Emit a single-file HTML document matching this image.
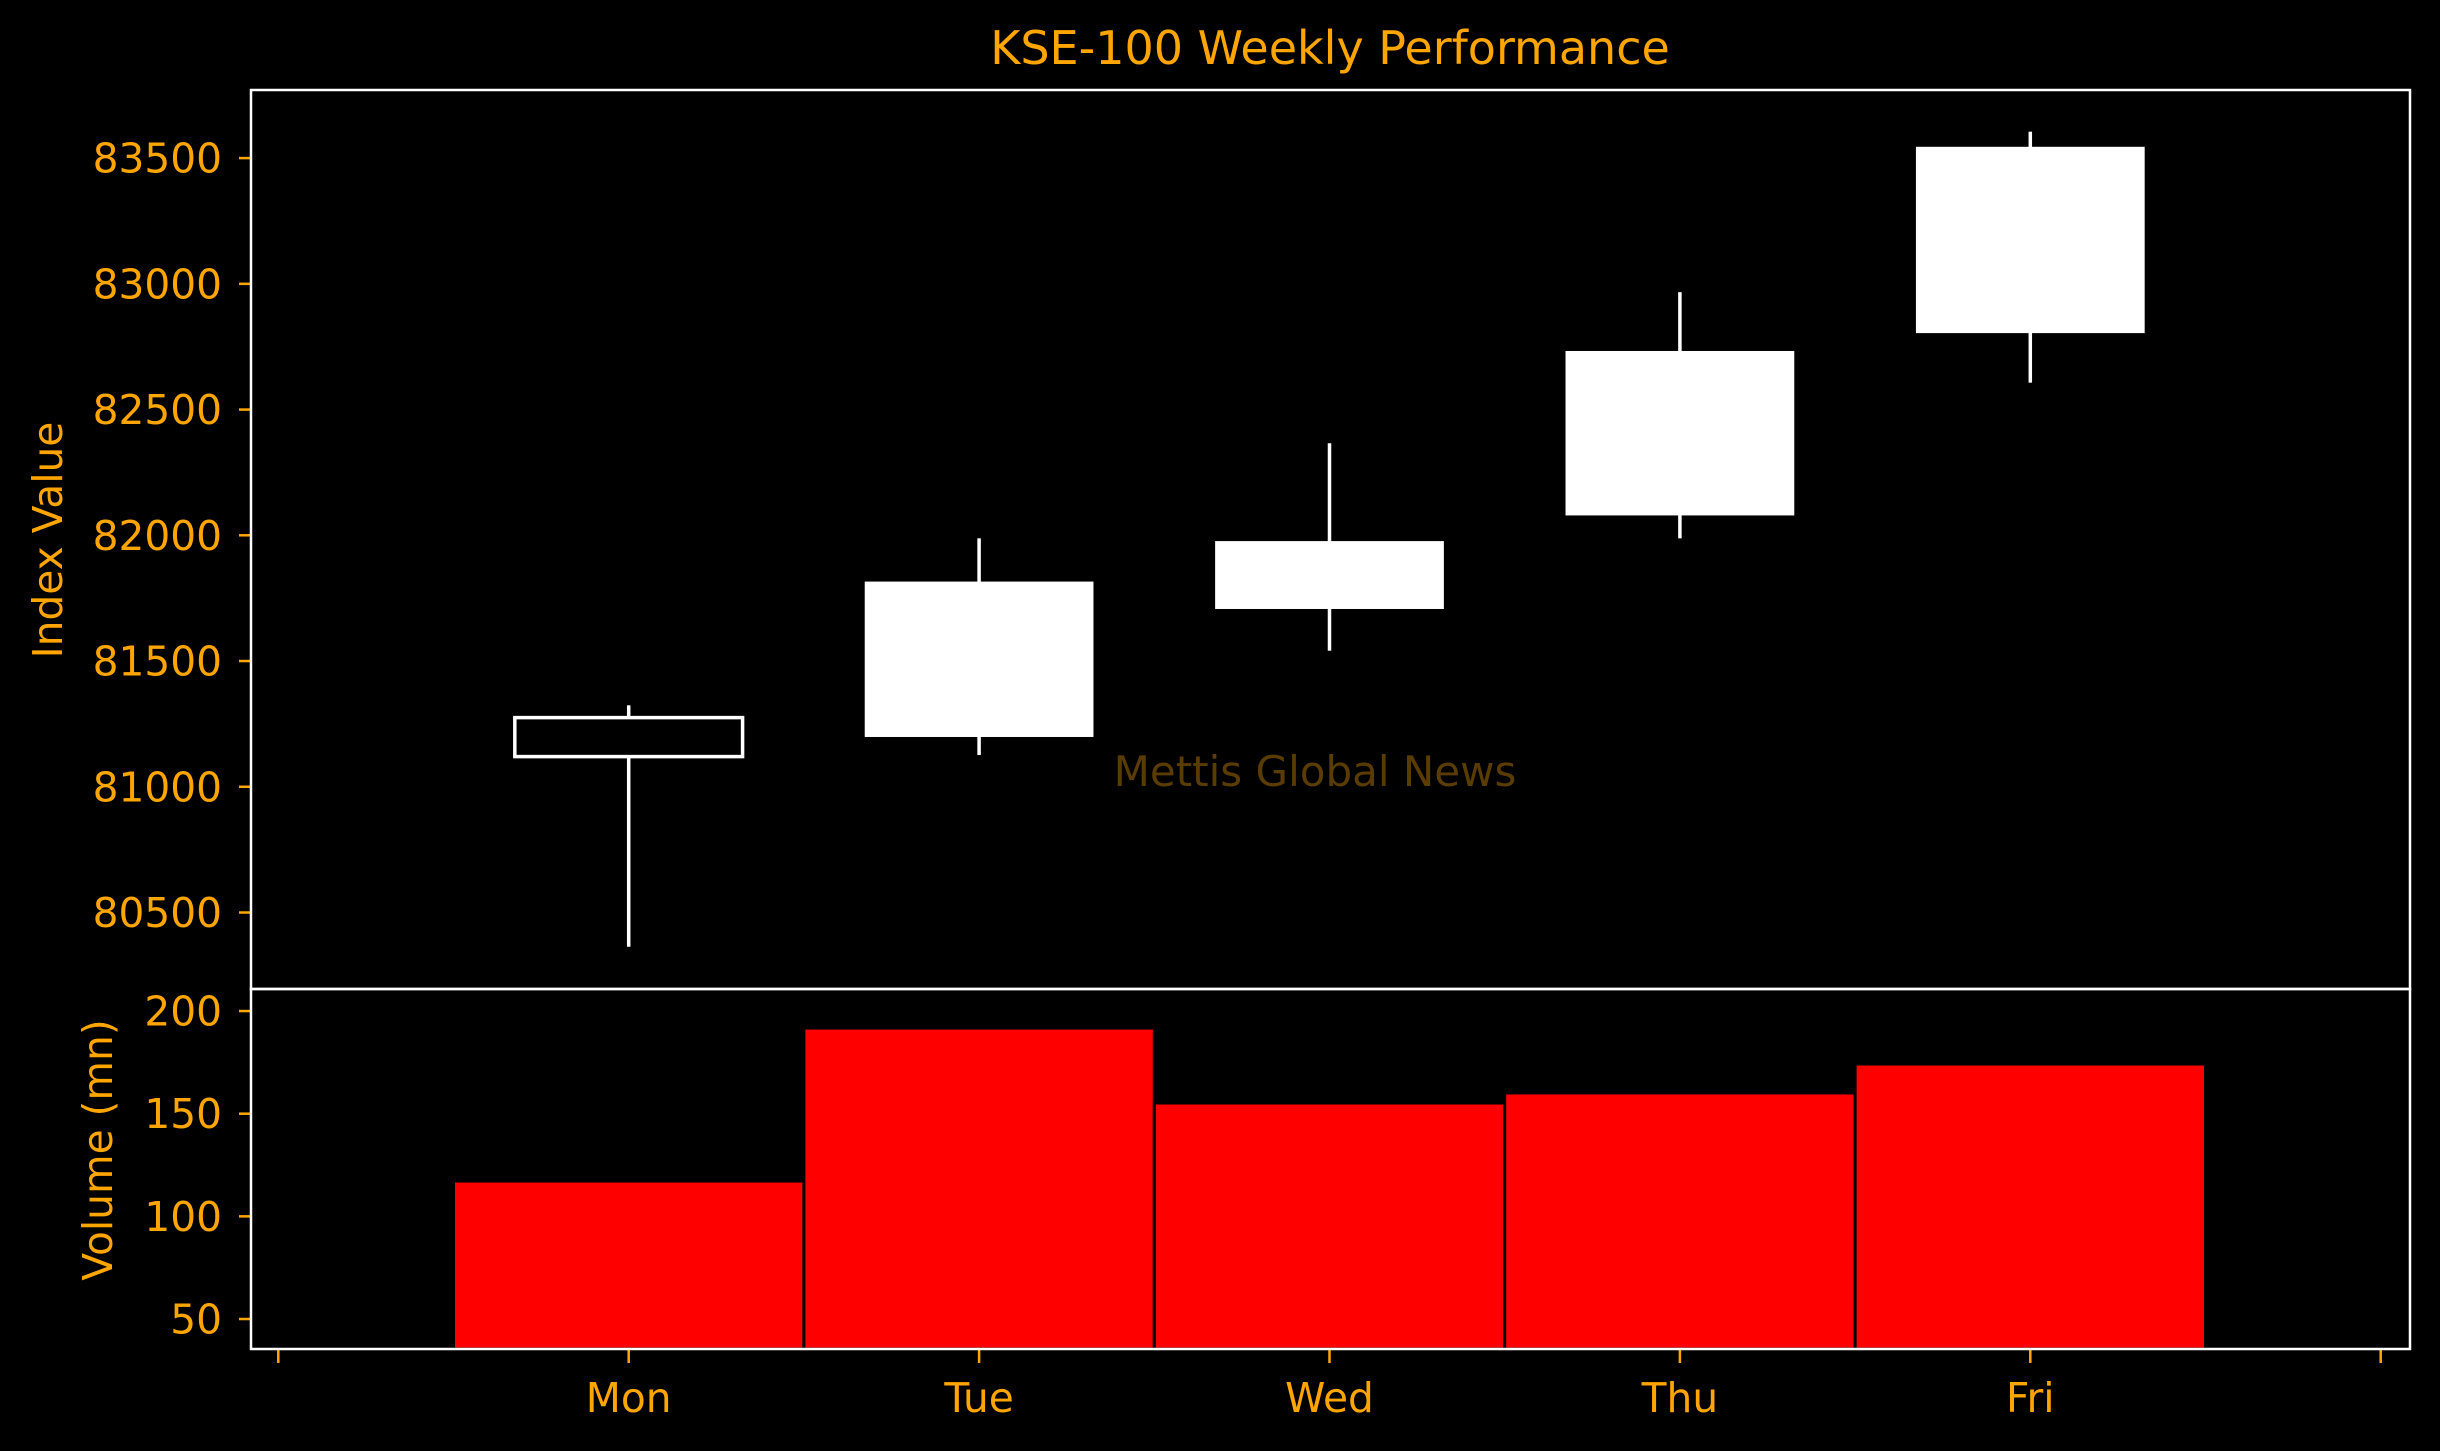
<!DOCTYPE html>
<html><head><meta charset="utf-8"><style>
html,body{margin:0;padding:0;background:#000;}
svg{display:block;font-family:"DejaVu Sans","Liberation Sans",sans-serif;}
</style></head><body>
<svg id="chart" width="2440" height="1451" viewBox="0 0 2440 1451" xmlns="http://www.w3.org/2000/svg">
<rect width="2440" height="1451" fill="#000"/>
<text x="1330" y="64" fill="#FFA500" font-size="46" text-anchor="middle">KSE-100 Weekly Performance</text>
<text x="1315" y="786" fill="#5a3c00" font-size="42" text-anchor="middle">Mettis Global News</text>
<text transform="translate(62,540) rotate(-90)" fill="#FFA500" font-size="40.7" text-anchor="middle">Index Value</text>
<text transform="translate(112,1150) rotate(-90)" fill="#FFA500" font-size="40.7" text-anchor="middle">Volume (mn)</text>
<g id="price"></g>
<g id="vol"></g>
<g id="xax"></g>
<rect x="251" y="90" width="2159" height="899" fill="none" stroke="#fff" stroke-width="2.5"/>
<rect x="251" y="989" width="2159" height="360" fill="none" stroke="#fff" stroke-width="2.5"/>
</svg>
<script>
const days = ["Mon","Tue","Wed","Thu","Fri"];
const opens = [81275, 81200, 81709, 82081, 82806];
const closes = [81120, 81814, 81975, 82731, 83543];
const highs = [81324, 81988, 82366, 82967, 83605];
const lows = [80364, 81126, 81541, 81988, 82607];
const volumes = [117.2, 191.7, 155.2, 160.1, 174.2];
const priceTicks = [80500, 81000, 81500, 82000, 82500, 83000, 83500];
const volTicks = [50, 100, 150, 200];
const xTickIdx = [-1, 0, 1, 2, 3, 4, 5];

const NS = "http://www.w3.org/2000/svg";
function mk(tag, attrs, parent){const e=document.createElementNS(NS,tag);for(const k in attrs)e.setAttribute(k,attrs[k]);parent.appendChild(e);return e;}
const X = i => 628.7 + i*350.4;
const YP = v => 158.1 + (83500 - v)*0.25147;
const YV = v => 1319 - (v - 50)*2.053;
const price = document.getElementById('price');
const vol = document.getElementById('vol');
const xax = document.getElementById('xax');
const CW = 0.65*350.4;

priceTicks.forEach(t=>{
  const l=mk('line',{x1:239,x2:251,y1:YP(t),y2:YP(t),stroke:'#FFA500','stroke-width':2.5},price);
  
  
  const tx=mk('text',{x:222,y:YP(t)+14.5,fill:'#FFA500','font-size':40.7,'text-anchor':'end'},price);
  tx.textContent=t;
  
  
});
days.forEach((d,i)=>{
  const up = closes[i]>=opens[i];
  const top = YP(Math.max(opens[i],closes[i])), bot = YP(Math.min(opens[i],closes[i]));
  const w1=mk('line',{x1:X(i),x2:X(i),y1:YP(highs[i]),y2:top,stroke:'#fff','stroke-width':3.5},price);
  
  
  const w2=mk('line',{x1:X(i),x2:X(i),y1:bot,y2:YP(lows[i]),stroke:'#fff','stroke-width':3.5},price);
  
  
  const b=mk('rect',{x:X(i)-CW/2,y:top,width:CW,height:Math.max(1,bot-top),fill:up?'#fff':'#000',stroke:'#fff','stroke-width':up?1:3.5},price);
  
  
});
volTicks.forEach(t=>{
  const l=mk('line',{x1:239,x2:251,y1:YV(t),y2:YV(t),stroke:'#FFA500','stroke-width':2.5},vol);
  
  
  const tx=mk('text',{x:222,y:YV(t)+14.5,fill:'#FFA500','font-size':40.7,'text-anchor':'end'},vol);
  tx.textContent=t;
  
  
});
const base = 1349;
volumes.forEach((v,i)=>{
  const r=mk('rect',{x:X(i)-175.2,y:YV(v),width:350.4,height:base-YV(v),fill:'#f00',stroke:'#000','stroke-width':3},vol);
  
  
});
xTickIdx.forEach(i=>{
  const l=mk('line',{x1:X(i),x2:X(i),y1:1350,y2:1363,stroke:'#FFA500','stroke-width':2.5},xax);
  
  
  if(i>=0 && i<days.length){
    const tx=mk('text',{x:X(i),y:1412,fill:'#FFA500','font-size':40.7,'text-anchor':'middle'},xax);
    tx.textContent=days[i];
    
    
  }
});
</script>
</body></html>
